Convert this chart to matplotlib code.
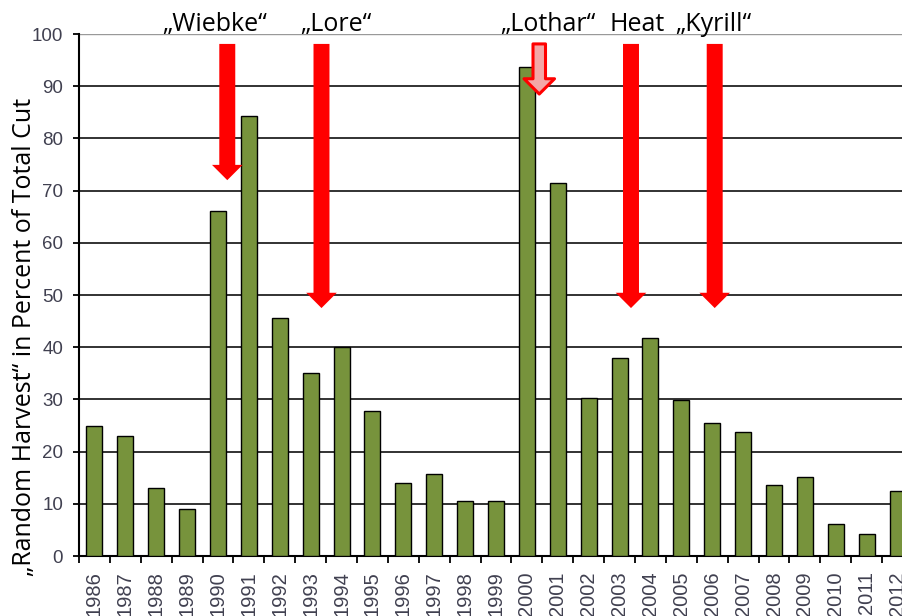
import numpy as np
import matplotlib
matplotlib.use("Agg")
import matplotlib.pyplot as plt

years = [str(y) for y in range(1986, 2013)]
random_harvest = [25.0, 23.0, 13.0, 9.0, 66.0, 84.3, 45.6, 35.0, 40.0, 27.8,
                  13.9, 15.7, 10.5, 10.5, 93.6, 71.4, 30.2, 38.0, 41.7, 29.8,
                  25.4, 23.8, 13.6, 15.1, 6.1, 4.2, 12.4]

# storm / event annotations: label, position on category axis, arrow tip value
events = ["\u201eWiebke\u201c", "\u201eLore\u201c", "\u201eLothar\u201c", "Heat", "\u201eKyrill\u201c"]
event_pos = [4.3, 7.35, 14.4, 17.37, 20.08]
event_tip = [72.0, 47.5, 88.5, 47.5, 47.5]
event_label_x = [3.9, 7.82, 14.68, 17.56, 20.05]

GREEN = "#77933C"
RED = "#FF0000"
PINK = "#F4A7A7"
TICK_COL = "#404050"

fig = plt.figure(figsize=(9.02, 6.16), dpi=100)
ax = fig.add_axes([0.0876, 0.0974, 0.9246, 0.8474])

x = np.arange(len(years))
ax.bar(x, random_harvest, width=0.52, color=GREEN, edgecolor="black", lw=1.0, zorder=3)

ax.set_xlim(-0.5, len(years) - 0.5)
ax.set_ylim(0, 100)
ax.set_yticks(np.arange(0, 101, 10))
for v in range(10, 100, 10):
    ax.axhline(v, color="#222222", lw=1.3, zorder=1)
ax.axhline(100, color="#999999", lw=1.0, zorder=1)

ax.set_xticks(x)
ax.set_xticklabels(years, rotation=90, fontsize=14.5, family="Liberation Sans", color=TICK_COL)
ax.set_xticks(np.arange(-0.5, len(years)), minor=True)
ax.tick_params(axis="x", which="major", length=0, pad=11)
ax.tick_params(axis="x", which="minor", length=5, width=1.3, color="black")
ax.tick_params(axis="y", length=4.5, width=1.3, labelsize=13.5, labelcolor=TICK_COL, pad=7)
for lab in ax.get_yticklabels():
    lab.set_family("Liberation Sans")

for s in ["top", "right"]:
    ax.spines[s].set_visible(False)
ax.spines["left"].set_linewidth(1.5)
ax.spines["bottom"].set_linewidth(1.5)

ax.set_ylabel("\u201eRandom Harvest\u201c in Percent of Total Cut", fontsize=18,
              family="Open Sans")
ax.yaxis.set_label_coords(-0.05, 0.42)

for i, name in enumerate(events):
    if i == 2:
        style = "simple,head_width=22,head_length=11,tail_width=9"
        props = dict(arrowstyle=style, fc=PINK, ec=RED, lw=2.2, mutation_scale=1,
                     shrinkA=0, shrinkB=0)
    else:
        style = "simple,head_width=22,head_length=11,tail_width=11.5"
        props = dict(arrowstyle=style, fc=RED, ec="none", mutation_scale=1,
                     shrinkA=0, shrinkB=0)
    ax.annotate("", xy=(event_pos[i], event_tip[i]), xytext=(event_pos[i], 98.1),
                arrowprops=props, zorder=5, annotation_clip=False)
    ax.text(event_label_x[i], 100.5, name, ha="center", va="baseline", fontsize=18,
            family="Open Sans", clip_on=False)

fig.savefig("out.png", dpi=100)
